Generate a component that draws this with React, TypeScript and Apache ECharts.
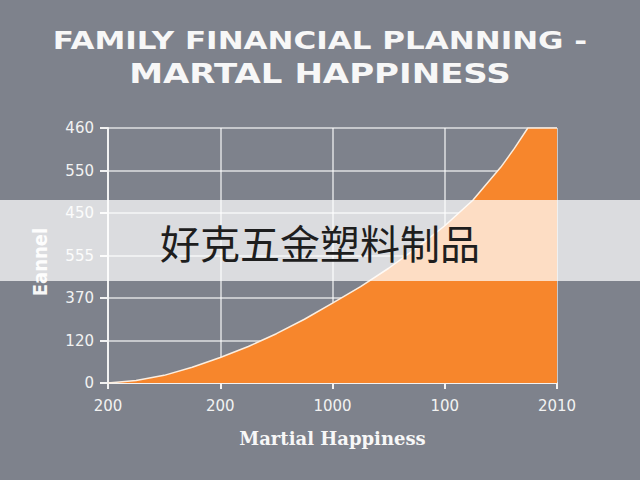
import React, { useEffect, useRef } from "react";
import * as echarts from "echarts";

const xTickLabels = ["200", "200", "1000", "100", "2010"];
const yTickLabels = ["0", "120", "370", "555", "450", "550", "460"];
const curveX = [0, 0.25, 0.5, 0.75, 1, 1.25, 1.5, 1.75, 2, 2.25, 2.5, 2.75, 3, 3.25, 3.5, 3.62, 3.74, 4];
const curveY = [0, 0.06, 0.18, 0.37, 0.6, 0.86, 1.16, 1.5, 1.88, 2.27, 2.7, 3.18, 3.7, 4.3, 5.08, 5.52, 6, 6];
const titleLines = ["FAMILY FINANCIAL PLANNING -", "MARTAL HAPPINESS"];
const xAxisTitle = "Martial Happiness";
const yAxisTitle = "Eannel";
const watermark = "好克五金塑料制品";

export default function App() {
  const ref = useRef<HTMLDivElement>(null);
  useEffect(() => {
    if (!ref.current) return;
    const chart = echarts.init(ref.current, undefined, { renderer: "svg" });
    const data = curveX.map((x, i) => [x, curveY[i]]);
    chart.setOption({
      animation: false,
      backgroundColor: "#7e828c",
      grid: { left: 108, right: 83, top: 128, bottom: 97 },
      xAxis: {
        type: "value",
        min: 0,
        max: 4,
        interval: 1,
        name: xAxisTitle,
        nameLocation: "middle",
        nameGap: 46,
        nameTextStyle: {
          color: "#f7f7f7",
          fontFamily: "DejaVu Serif",
          fontWeight: "bold",
          fontSize: 18,
        },
        axisLine: { show: true, lineStyle: { color: "#f2f2f2", width: 2 } },
        axisTick: { show: true, length: 6, lineStyle: { color: "#f2f2f2", width: 2 } },
        axisLabel: {
          color: "#f2f2f2",
          fontFamily: "DejaVu Sans",
          fontSize: 15,
          margin: 15,
          formatter: (v: number) => xTickLabels[Math.round(v)] ?? "",
        },
        splitLine: { show: true, lineStyle: { color: "rgba(255,255,255,0.75)", width: 1.5 } },
      },
      yAxis: {
        type: "value",
        min: 0,
        max: 6,
        interval: 1,
        axisLine: { show: true, lineStyle: { color: "#f2f2f2", width: 2 } },
        axisTick: { show: true, length: 8, lineStyle: { color: "#f2f2f2", width: 2 } },
        axisLabel: {
          color: "#f2f2f2",
          fontFamily: "DejaVu Sans",
          fontSize: 15,
          margin: 14,
          formatter: (v: number) => yTickLabels[Math.round(v)] ?? "",
        },
        splitLine: { show: true, lineStyle: { color: "rgba(255,255,255,0.75)", width: 1.5 } },
      },
      series: [
        {
          type: "line",
          data,
          smooth: false,
          symbol: "none",
          lineStyle: { color: "#fbeee0", width: 1.5 },
          areaStyle: { color: "#f7862c", opacity: 1 },
          z: 3,
        },
      ],
      graphic: [
        {
          type: "text",
          x: 320,
          y: 41,
          scaleX: 1.24,
          style: {
            text: titleLines[0],
            fill: "#f7f7f7",
            font: 'bold 25px "DejaVu Sans"',
            textAlign: "center",
            textVerticalAlign: "middle",
          },
        },
        {
          type: "text",
          x: 320,
          y: 73,
          scaleX: 1.26,
          style: {
            text: titleLines[1],
            fill: "#f7f7f7",
            font: 'bold 27px "DejaVu Sans"',
            textAlign: "center",
            textVerticalAlign: "middle",
          },
        },
        {
          type: "text",
          x: 40,
          y: 262,
          rotation: Math.PI / 2,
          style: {
            text: yAxisTitle,
            fill: "#f7f7f7",
            font: 'bold 20px "DejaVu Sans Condensed"',
            textAlign: "center",
            textVerticalAlign: "middle",
          },
        },
        {
          type: "rect",
          left: 0,
          top: 200,
          shape: { x: 0, y: 0, width: 640, height: 81 },
          style: { fill: "rgba(255,255,255,0.72)" },
          z: 100,
        },
        {
          type: "text",
          left: "center",
          top: 222,
          style: {
            text: watermark,
            fill: "#1e1e1e",
            font: '40px "Noto Sans CJK SC"',
          },
          z: 101,
        },
      ],
    });
    return () => chart.dispose();
  }, []);
  return (
    <div
      ref={ref}
      style={{ position: "fixed", left: 0, top: 0, width: 640, height: 480 }}
    />
  );
}
